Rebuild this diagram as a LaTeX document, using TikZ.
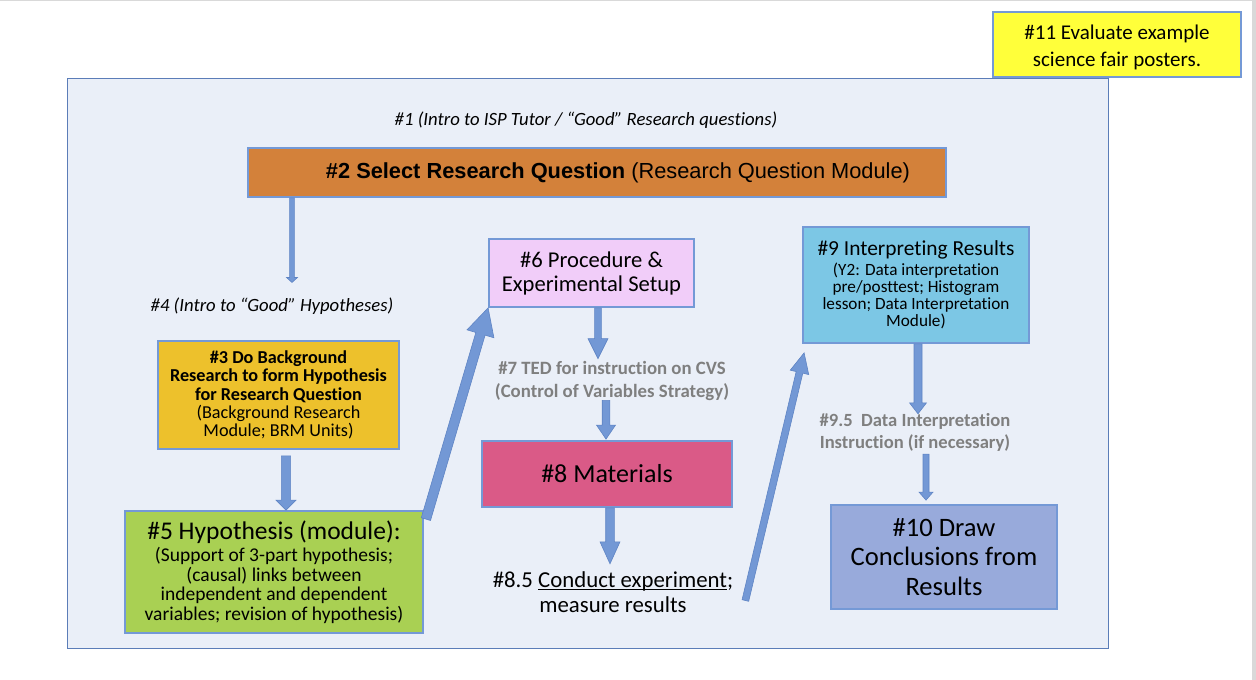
\documentclass[tikz,border=0pt]{standalone}
\usepackage{fontspec}
\setmainfont{Carlito}[Ligatures=NoCommon]
\newfontfamily\arialfont{Liberation Sans}
\usetikzlibrary{calc}

\definecolor{panelfill}{HTML}{EAEFF8}
\definecolor{panelline}{HTML}{5B7DB8}
\definecolor{boxline}{HTML}{7499D6}
\definecolor{arrowfill}{HTML}{7398D5}
\definecolor{arrowline}{HTML}{5F84C4}
\definecolor{greytext}{HTML}{7F7F7F}
\definecolor{edgegrey}{HTML}{D9D9D9}
\definecolor{cyellow}{HTML}{FFFF3A}
\definecolor{corange}{HTML}{D3813A}
\definecolor{cgold}{HTML}{EDC12C}
\definecolor{cgreen}{HTML}{A9D053}
\definecolor{clilac}{HTML}{F1CDF9}
\definecolor{cpink}{HTML}{DA5A87}
\definecolor{ccyan}{HTML}{7CC7E5}
\definecolor{cperiwinkle}{HTML}{98AADB}

% text with a rule under it that cuts through the descenders
\newcommand{\lowrule}[1]{\setbox0\hbox{#1}\rlap{\rule[-2.6pt]{\wd0}{1.1pt}}\box0}

% block arrow: start, tip, half shaft width, half head width, head length
\newcommand{\blockarrow}[5]{%
  \coordinate (ba-s) at #1;
  \coordinate (ba-e) at #2;
  \coordinate (ba-h) at ($(ba-e)!#5!(ba-s)$);
  \filldraw[flowarrow]
    ($(ba-s)!#3!90:(ba-e)$) -- ($(ba-h)!#3!90:(ba-e)$) --
    ($(ba-h)!#4!90:(ba-e)$) -- (ba-e) --
    ($(ba-h)!#4!-90:(ba-e)$) -- ($(ba-h)!#3!-90:(ba-e)$) --
    ($(ba-s)!#3!-90:(ba-e)$) -- cycle;
}

\begin{document}
\begin{tikzpicture}[x=1pt,y=-1pt,
  box/.style={draw=boxline, line width=1.8pt, inner sep=0pt, align=center},
  label/.style={inner sep=2pt, align=center},
  flowarrow/.style={fill=arrowfill, draw=arrowline, line width=0.6pt, line join=miter}]

% page and its grey edges
\fill[white] (0,0) rectangle (1256,680);
\useasboundingbox (0,0) rectangle (1256,680);
\fill[edgegrey] (0,0) rectangle (1256,1.2);
\fill[edgegrey] (1251.5,0) rectangle (1256,680);

% light blue panel
\draw[fill=panelfill, draw=panelline, line width=1pt] (67,78) rectangle (1108,648);

% poster evaluation box
\node[box, fill=cyellow, minimum width=248pt, minimum height=65pt,
      font=\fontsize{21}{27}\selectfont] (n11) at (1117,44.5)
  {\raisebox{-3pt}[\height][\depth]{\begin{tabular}{@{}c@{}}\#11 Evaluate example\\ science fair posters.\end{tabular}}};

% research question stage
\node[label, font=\fontsize{18.7}{21}\selectfont\itshape] (n1) at (586,120)
  {\#1 (Intro to ISP Tutor / “Good” Research questions)};
\node[box, fill=corange, minimum width=698pt, minimum height=49pt,
      font=\arialfont\fontsize{21.8}{24}\selectfont] (n2) at (597,172.5)
  {\hspace*{42pt}\textbf{\#2 Select Research Question} (Research Question Module)};

% hypothesis stage
\node[label, font=\fontsize{18.7}{21}\selectfont\itshape] (n4) at (272,306)
  {\#4 (Intro to “Good” Hypotheses)};
\node[box, fill=cgold, minimum width=241pt, minimum height=108pt,
      font=\fontsize{18.2}{18.4}\selectfont] (n3) at (278.5,395)
  {\textbf{\#3 Do Background}\\ \textbf{Research to form Hypothesis}\\ \textbf{for Research Question}\\
   (Background Research\\ Module; BRM Units)};
\node[box, fill=cgreen, minimum width=298pt, minimum height=122pt,
      font=\fontsize{19.5}{19.5}\selectfont] (n5) at (274,572)
  {{\fontsize{25.5}{25}\selectfont \#5 Hypothesis (module):}\\[3pt]
   (Support of 3-part hypothesis;\\ (causal) links between\\ independent and dependent\\ variables; revision of hypothesis)};

% experiment stage
\node[box, fill=clilac, minimum width=205pt, minimum height=68pt,
      font=\fontsize{22.6}{24}\selectfont] (n6) at (591.5,273)
  {\#6 Procedure \&\\ Experimental Setup};
\node[label, text=greytext, font=\fontsize{18.8}{23}\selectfont\bfseries] (n7) at (612,380.5)
  {\#7 TED for instruction on CVS\\ (Control of Variables Strategy)};
\node[box, fill=cpink, minimum width=250pt, minimum height=66pt,
      font=\fontsize{26}{29}\selectfont] (n8) at (607,474)
  {\#8 Materials};
\node[label, font=\fontsize{22.8}{25}\selectfont] (n85) at (613,592.5)
  {\#8.5 \lowrule{Conduct experiment};\\ measure results};

% results stage
\node[box, fill=ccyan, minimum width=226pt, minimum height=116pt,
      font=\fontsize{17.2}{17}\selectfont] (n9) at (916,285)
  {{\fontsize{21.4}{22}\selectfont \#9 Interpreting Results}\\[3pt]
   (Y2: Data interpretation\\ pre/posttest; Histogram\\ lesson; Data Interpretation\\ Module)};
\node[label, text=greytext, font=\fontsize{18.6}{22}\selectfont\bfseries] (n95) at (915,432)
  {\#9.5\ \ Data Interpretation\\ Instruction (if necessary)};
\node[box, fill=cperiwinkle, minimum width=226pt, minimum height=104pt,
      font=\fontsize{26.6}{29.5}\selectfont] (n10) at (944,557)
  {\#10 Draw\\ Conclusions from\\ Results};

% connectors
\blockarrow{(n2.south -| 292,0)}{($(n4.north -| 292,0)+(0,-13)$)}{2.4pt}{5.5pt}{5pt}
\blockarrow{($(n3.south -| 286,0)+(0,6)$)}{(n5.north -| 286,0)}{4.6pt}{10pt}{10pt}
\blockarrow{($(n5.north east)+(2,9)$)}{(n6.south west)}{4.8pt}{14pt}{27pt}
\blockarrow{(n6.south -| 598,0)}{(n7.north -| 598,0)}{3.4pt}{10pt}{20pt}
\blockarrow{($(n7.south -| 606,0)+(0,-2)$)}{($(n8.north -| 606,0)+(0,-1)$)}{3.8pt}{9.5pt}{14pt}
\blockarrow{(n8.south -| 610,0)}{($(n85.north -| 610,0)+(0,-6)$)}{4.3pt}{10pt}{22pt}
\blockarrow{($(n85.east)+(10,8)$)}{($(n9.south west)+(2,9)$)}{3.4pt}{9.5pt}{20pt}
\blockarrow{(n9.south -| 918,0)}{($(n95.north -| 918,0)+(0,3)$)}{4pt}{8.5pt}{11pt}
\blockarrow{($(n95.south -| 926,0)+(0,1)$)}{($(n10.north -| 926,0)+(0,-4)$)}{3pt}{7pt}{8pt}

\end{tikzpicture}
\end{document}
